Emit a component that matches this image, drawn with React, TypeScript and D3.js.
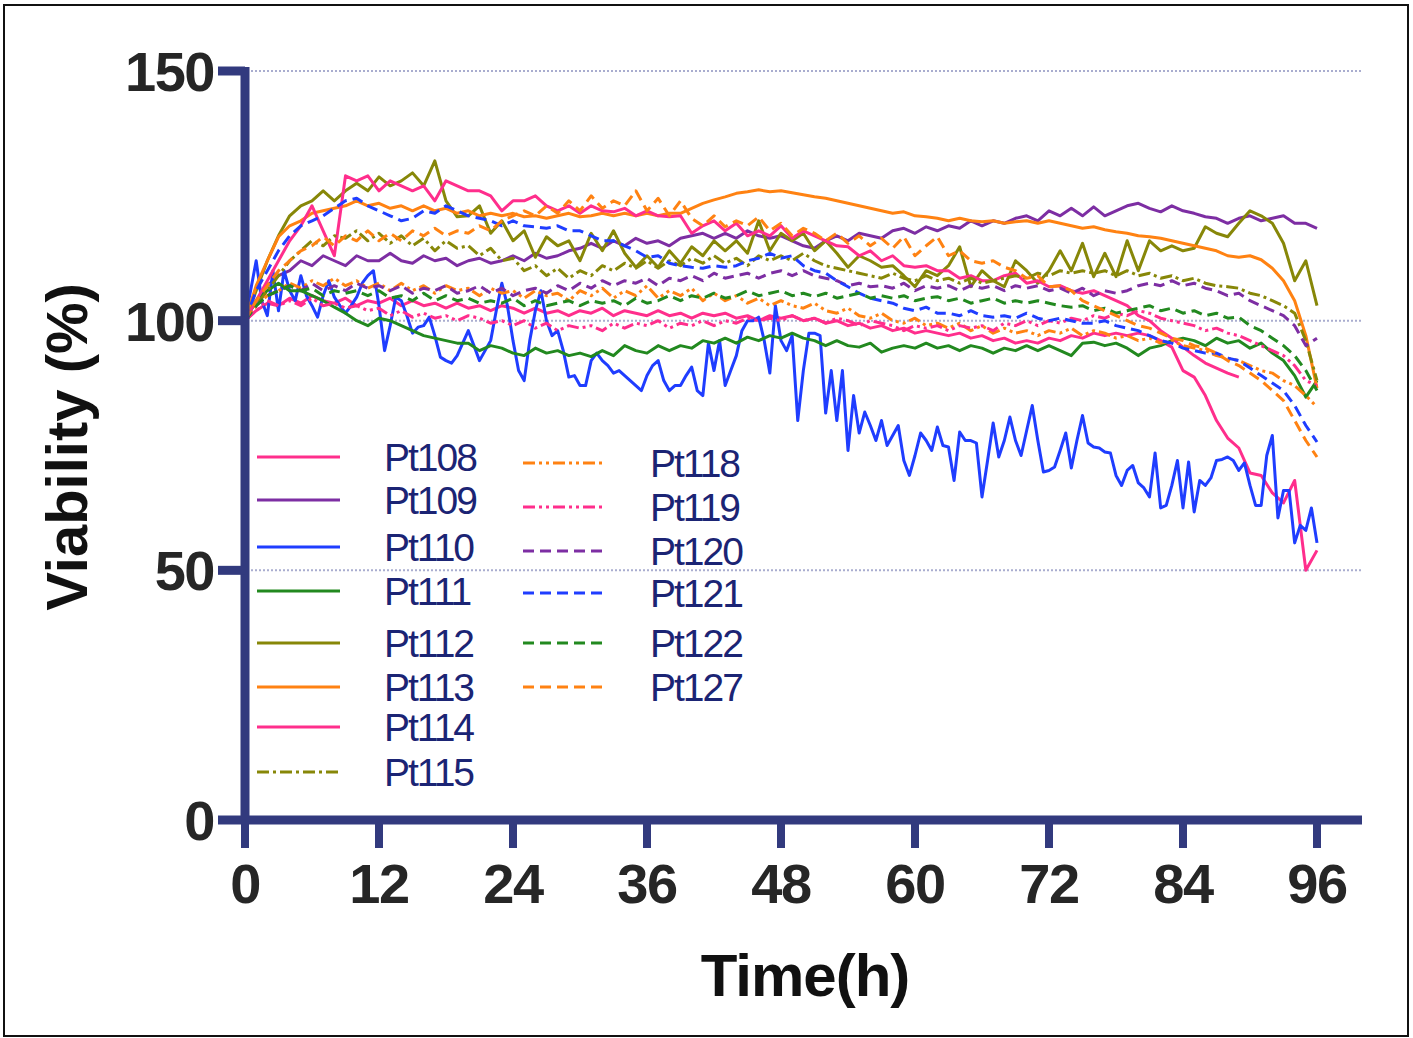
import React from 'react';
import * as d3 from 'd3';

// ---------- data ----------
const HOURS = d3.range(0, 97, 1);
const HALF_HOURS = d3.range(0, 96.5, 0.5);
const X_TICKS = [0, 12, 24, 36, 48, 60, 72, 84, 96];
const Y_TICKS = [0, 50, 100, 150];
const GRID_VALUES = [50, 100, 150];

const pt108 = [
  100, 102, 103.5, 103, 104.5, 103.5, 105, 104, 103.5, 104.5,
  103, 104, 103.5, 104.5, 103, 104, 103, 103.5, 102.5, 103.5,
  102.5, 103, 102, 103, 102.5, 101.5, 102.5, 101.5, 102, 101,
  102, 101.5, 102.5, 101, 102, 101.5, 101, 102, 101, 101.5,
  100.5, 101.5, 101, 101.5, 100.5, 101, 100, 101, 100.5, 101,
  100, 100.5, 99.5, 100, 99, 99.5, 98.5, 99, 98, 98.5,
  97.5, 98, 97.5, 97, 97.5, 96.5, 97, 96, 96.5, 95.5,
  96, 95.5, 96.5, 96, 97, 96.5, 97.5, 97, 97.5, 97,
  97.5, 97, 96, 94.7, 90, 88.7, 85, 80, 76.5, 74.5,
  69.5, 69, 65.5, 63.5, 68, 50, 54,
];
const pt109 = [
  100, 104, 107, 109, 110, 112, 111, 113, 112, 111,
  113, 112, 112, 113.5, 112, 111.5, 113, 112, 112.5, 111,
  112, 112.5, 111.5, 112, 113, 112, 113.5, 112.5, 113, 114,
  114.5, 115.5, 114.5, 116, 115, 116.5, 115.5, 116, 115, 116.5,
  117, 117.5, 116.5, 117.5, 116.5, 118, 117, 116.5, 117, 116,
  115, 114.5, 116, 117, 116, 117.5, 117, 116.5, 118, 118.5,
  117.5, 118.8, 118, 119, 118.5, 120, 119, 120, 119.5, 120.5,
  121, 120, 122, 121, 122.5, 121, 122.8, 121, 122, 123,
  123.5, 122.5, 121.8, 123, 122, 121.5, 120.8, 120.5, 119.5, 120.5,
  121, 120, 120.5, 121, 119.5, 119.5, 118.5,
];
const pt110 = [
  100, 106, 112, 104, 101, 110, 102, 110, 106, 104,
  109, 105, 103, 100.7, 105, 108, 104.7, 103, 101.5, 103,
  104.7, 107.5, 109, 110, 103, 94, 99, 104.7, 104, 101,
  97.5, 98.7, 99, 100.7, 97, 92.7, 92, 91.5, 93, 95.5,
  98, 95, 92, 94, 96, 102, 107.5, 103, 96, 90,
  88, 96, 102, 106, 100, 97, 98, 94, 88.7, 89,
  87, 87, 92, 93.5, 92, 91, 89.5, 90, 89, 88,
  87, 86, 89, 91, 92, 88, 86, 87, 87, 89,
  90.7, 86, 85, 95.5, 90, 96, 87, 90, 93, 98,
  100, 100, 100.7, 96, 89.5, 103, 96, 94, 97, 80,
  90, 97.5, 97.5, 97, 81.5, 90, 80, 90, 74, 85,
  77.5, 81.7, 79, 76, 80, 75, 77, 79, 72, 69,
  73, 77.5, 76, 74, 78.7, 75, 74.7, 68, 77.7, 76,
  76, 75.5, 64.7, 72, 79.5, 72.7, 76, 80.7, 76, 73,
  78, 83, 76, 69.7, 70, 70.7, 74, 77.5, 70.5, 76,
  81, 75.5, 74.7, 74.5, 73.7, 73.5, 69, 67, 70, 71,
  67.5, 66.5, 64.7, 73.5, 62.5, 63, 67, 72, 62.5, 71.7,
  61.7, 68, 67, 68.5, 72, 72.2, 72.7, 72, 70, 71.5,
  67, 63, 63, 73, 77, 60.5, 66, 66, 55.5, 59,
  58, 62.5, 55.5,
];
const pt111 = [
  100, 104, 106, 107.5, 106, 106, 105, 104, 102.7, 101.5,
  100, 99, 100.5, 100, 99, 98, 97, 96.5, 96, 95.5,
  95.5, 94, 95, 94.5, 93.5, 93, 94.5, 93.5, 94, 93,
  93.5, 92.8, 94, 93, 95, 94, 93.5, 95, 94, 95,
  94.5, 96, 95.5, 96.5, 95.5, 96.7, 96, 97, 96.5, 97.5,
  96.5, 96, 95, 96, 95, 94.7, 95.5, 93.7, 94.5, 95,
  94.5, 95.5, 94.5, 95, 94, 95, 94.5, 93.5, 94.5, 94,
  95, 94, 95, 94, 93, 95.5, 95.7, 95, 95.5, 94.5,
  93, 94.5, 95, 96, 96.5, 96, 95, 96.5, 95.5, 96,
  94.5, 95.5, 93.5, 92, 89, 84.7, 88,
];
const pt112 = [
  100, 106, 112, 117, 121, 123, 124, 126, 124, 126,
  127.5, 126, 128.8, 127, 128, 129.6, 127, 132, 124, 120.8,
  121, 123, 117.5, 120, 116, 118, 112.7, 116.8, 115, 116,
  112, 117.5, 114, 118, 113.5, 110.7, 113, 110.7, 114, 111.5,
  114.8, 113, 116, 114, 116, 113.5, 120, 114, 117.5, 116,
  117.5, 114, 116, 113.5, 110.7, 113, 112, 110.7, 111, 109,
  106.8, 110, 109, 111, 114.8, 106.8, 110, 108, 106.8, 112,
  110, 107.5, 110, 114, 110, 115.5, 108.8, 113.5, 108.8, 116,
  110, 116, 114, 115, 114, 114.5, 118.8, 117.5, 116.8, 119.5,
  122, 121, 119.5, 115.5, 108, 112, 103,
];
const pt113 = [
  100, 107, 112, 116.8, 119, 120, 121.5, 122, 122.5, 123,
  124, 123, 123.5, 122.5, 123, 122, 123, 122, 122.5, 121.5,
  122, 121, 121.5, 121, 121.5, 120.8, 121, 120.5, 121, 121.5,
  120.8, 121, 121.5, 121, 121.5, 121, 121.5, 121, 121.5, 121.5,
  122.5, 123.5, 124.2, 124.8, 125.5, 125.8, 126.2, 125.8, 126, 125.6,
  125.2, 124.8, 124.5, 124, 123.5, 123, 122.5, 122, 121.5, 121.8,
  121, 120.8, 120.5, 120, 120.5, 120, 119.8, 120, 119.5, 119.8,
  120, 119.5, 120, 119.5, 119, 118.5, 118.8, 118.2, 117.8, 117.5,
  117, 116.8, 116.5, 116, 115.5, 115, 114.5, 114, 113, 112.7,
  113, 112.2, 110.5, 108, 104, 97, 86.5,
];
const pt114 = [
  100, 104, 108, 112, 116, 119, 123, 118, 113, 129,
  128, 129, 126, 128, 127, 126, 127, 124, 128, 127,
  126, 126, 125, 122, 124, 124, 125, 123, 122, 123,
  121.5, 123, 122, 121.8, 122.5, 121, 122, 121, 120.8, 121,
  117.5, 119, 120, 118, 119.5, 117, 118, 117, 119, 116.5,
  118, 117, 116, 115, 114.8, 113, 114, 112, 113, 111,
  110.7, 111, 110, 110, 108.5, 109, 108, 108, 109, 109.5,
  107.5, 108, 106.8, 107, 106, 105.5, 106, 105, 104, 103,
  101, 100, 98, 96.5, 94.7, 93, 91.5, 90.5, 89.5, 88.7,
  null, null, null, null, null, null, null,
];
const pt115 = [
  100, 103, 106, 109, 112, 114, 116, 115, 117, 116.5,
  118, 116, 117.5, 115.5, 117, 115, 116.5, 114, 116, 114.5,
  115, 113, 114.5, 112, 112.5, 110, 111, 109, 110.5, 108.5,
  110, 109, 111, 110, 111.5, 110.5, 112, 110.5, 112, 111,
  112.5, 111.5, 113, 111.5, 112.5, 111, 113, 112, 113, 112,
  113.5, 112, 111, 110.5, 110, 109.5, 109, 108.5, 109.5, 108.5,
  108, 109, 108, 108.5, 107.5, 108.5, 107.5, 108, 108.5, 109,
  108.5, 109.5, 109, 110, 109.5, 110, 109.5, 110, 109, 110,
  109, 109.5, 108.5, 109, 108, 108.5, 107.5, 107, 106.8, 106.5,
  105.5, 105, 104, 103, 101.5, 96, 88,
];
const pt118 = [
  100, 103, 105, 106, 107.5, 106.5, 108, 107, 108.5, 107,
  108, 106.5, 107.5, 106, 107.5, 106, 107, 105.5, 107, 106,
  106.5, 105, 106.5, 105.5, 106, 104.5, 106, 105, 105.5, 104,
  106, 105, 106.5, 104.5, 106, 105, 107, 104.5, 106, 105,
  106.5, 104, 105.5, 104, 105, 103.5, 104.5, 103, 104, 103,
  102.5, 103.5, 102, 101.5, 102.5, 101, 100.5, 101.5, 100, 99.5,
  100.5, 99, 99.5, 98.5, 99.5, 98, 99, 97.5, 98.5, 97.5,
  98, 97, 98, 97.5, 98.5, 97, 98, 97.5, 96.5, 97,
  96, 96.5, 95.5, 96, 95, 94.5, 94, 93, 92.5, 92,
  91, 90, 89.5, 88, 87, 85, 82.7,
];
const pt119 = [
  100, 102, 104, 103, 104, 103, 104.5, 103, 103.5, 102.5,
  103, 102, 102.5, 101, 102, 100.7, 101.5, 100.5, 101, 100,
  101, 100.5, 99.5, 100, 99, 100, 98.5, 99.5, 98, 99,
  98.5, 99, 98, 99.5, 98.5, 99.5, 99, 100, 98.5, 99.5,
  99, 100, 99, 100, 99.5, 100.5, 100, 100.5, 100, 101,
  100, 100.5, 99.5, 100.5, 100, 99, 100, 99.5, 99, 98,
  99, 98.5, 99, 98, 99, 98.5, 99, 98, 99.5, 99,
  100, 99, 100, 99.5, 100.5, 100, 101, 100.5, 101.5, 101,
  102, 101.5, 100.5, 100, 99.5, 99, 98, 98.5, 97.5, 97,
  96, 95, 94, 93, 91, 88, 87,
];
const pt120 = [
  100, 103, 105, 106, 107, 106, 107.5, 106, 107, 106,
  107.5, 106.5, 107, 106, 107, 105.5, 106.5, 106, 107, 105.5,
  106, 107, 105.5, 106.5, 105, 106, 106.5, 105.5, 107, 106,
  107.5, 106.5, 108, 107, 108, 107.5, 108.5, 107, 108.5, 108,
  109, 108, 109.5, 108.5, 109, 109.5, 108.5, 109.5, 110, 109,
  110, 109, 108.5, 108, 107, 107.5, 106.8, 107, 106.5, 107.5,
  106, 107, 106.5, 107, 106, 107, 106.5, 107, 106, 107,
  106.5, 107, 106, 106.5, 105.5, 106.5, 105, 106, 105.5, 106,
  107, 107.5, 107, 108, 107, 107.5, 106.5, 106, 105, 105.5,
  104, 103, 102, 101, 99, 95, 96.5,
];
const pt121 = [
  100, 106, 110, 114, 117, 119, 120, 121, 122.5, 124,
  124.5, 123, 122, 121, 120, 120.5, 122, 121.5, 123, 122,
  121, 120.5, 120, 119, 120, 119, 118.8, 118.5, 119, 118,
  118, 117, 116, 116, 115, 114, 112.7, 113, 111.5, 111,
  110.7, 110.5, 111, 110.7, 111, 112, 112.5, 113.5, 112.5, 113,
  111, 110, 109.5, 108, 106.8, 105.5, 104.5, 104, 103.5, 102.5,
  102, 102.7, 101.5, 101.5, 101, 102, 101, 100.7, 101, 100.5,
  101.5, 100.5, 100, 100.5, 100, 99.5, 99.5, 100, 99, 98.5,
  98, 97, 96, 95.5, 94.5, 94, 93.5, 93.5, 92.5, 92,
  90.5, 89, 87.5, 86, 83, 79, 75.7,
];
const pt122 = [
  100, 103, 105, 106, 107, 106, 106.5, 105, 106, 105.5,
  106, 105, 106, 104.5, 105, 104, 105.5, 104, 105, 104,
  104.5, 103.5, 104, 103.5, 104.5, 103, 104, 103, 103.5, 104,
  103, 104, 103.5, 104, 103, 104.5, 103.5, 104, 105, 104,
  105, 104.5, 105.5, 104.5, 105, 106, 105, 105.5, 106, 105,
  105.5, 104.8, 105.5, 104.5, 105, 105.5, 104.5, 105, 104.5, 105,
  104, 104.5, 104.8, 104, 104.5, 103.5, 104, 104.5, 103.5, 104,
  103.5, 104, 103.5, 103, 102.7, 103, 102, 102.5, 101.5, 102,
  102.5, 103, 102, 102.5, 101.5, 102, 101, 101.5, 100.5, 100.7,
  99, 98, 96.5, 95, 93, 90, 86,
];
const pt127 = [
  100, 104, 107, 110, 112, 114, 115, 116.8, 115, 117,
  116, 118, 116, 117.5, 116, 118, 117, 118.5, 117, 118,
  117.5, 119, 118, 120, 121, 122, 121, 123, 121.5, 124,
  122, 125, 122.5, 124, 123, 126, 122, 124.5, 121, 124,
  120.5, 119, 121, 118.8, 120, 119, 120.8, 118, 119.5, 117,
  118.5, 117.5, 116, 117.5, 115.5, 117, 115, 116.5, 114.5, 116.8,
  113, 115, 116.8, 113, 114, 112, 111.5, 112, 110.7, 110,
  108.5, 109, 106.8, 107, 106, 104, 103, 102, 101, 100,
  99, 98.5, 97.5, 96.5, 96, 95, 94.5, 93.5, 92, 91,
  89.5, 88, 86, 84, 80, 76, 72.7,
];

// ---------- styles ----------
const COLORS = {
  pink: '#ff2e8c',
  purple: '#7d2ea3',
  blue: '#1f3dff',
  green: '#22891f',
  olive: '#878708',
  orange: '#ff8212',
};
const DASH = {
  solid: undefined as string | undefined,
  dash: '11,6',
  dashDot: '12,4,3,4',
  dashDotDot: '12,4,3,4,3,4',
};

const SERIES = [
  { name: 'Pt108', hours: HOURS, values: pt108, color: COLORS.pink, dash: DASH.solid },
  { name: 'Pt109', hours: HOURS, values: pt109, color: COLORS.purple, dash: DASH.solid },
  { name: 'Pt110', hours: HALF_HOURS, values: pt110, color: COLORS.blue, dash: DASH.solid },
  { name: 'Pt111', hours: HOURS, values: pt111, color: COLORS.green, dash: DASH.solid },
  { name: 'Pt112', hours: HOURS, values: pt112, color: COLORS.olive, dash: DASH.solid },
  { name: 'Pt113', hours: HOURS, values: pt113, color: COLORS.orange, dash: DASH.solid },
  { name: 'Pt114', hours: HOURS, values: pt114, color: COLORS.pink, dash: DASH.solid },
  { name: 'Pt115', hours: HOURS, values: pt115, color: COLORS.olive, dash: DASH.dashDot },
  { name: 'Pt118', hours: HOURS, values: pt118, color: COLORS.orange, dash: DASH.dashDotDot },
  { name: 'Pt119', hours: HOURS, values: pt119, color: COLORS.pink, dash: DASH.dashDotDot },
  { name: 'Pt120', hours: HOURS, values: pt120, color: COLORS.purple, dash: DASH.dash },
  { name: 'Pt121', hours: HOURS, values: pt121, color: COLORS.blue, dash: DASH.dash },
  { name: 'Pt122', hours: HOURS, values: pt122, color: COLORS.green, dash: DASH.dash },
  { name: 'Pt127', hours: HOURS, values: pt127, color: COLORS.orange, dash: DASH.dash },
];

// legend layout (row centres in px)
const LEGEND_COL1_Y = [457, 500, 547, 591, 643, 687, 727, 772];
const LEGEND_COL2_Y = [463, 507, 551, 593, 643, 687];

const AXIS_COLOR = '#323a7e';
const GRID_COLOR = '#a9adcf';
const LABEL_COLOR = '#262626';
const LEGEND_TEXT = '#1b2474';
const FONT = "'Liberation Sans', Arial, Helvetica, sans-serif";

export default function App() {
  const W = 1413;
  const H = 1038;
  const x = d3.scaleLinear().domain([0, 96]).range([245, 1317]);
  const y = d3.scaleLinear().domain([0, 150]).range([820, 71]);

  const makePath = (hours: number[], values: (number | null)[]) =>
    d3
      .line<number | null>()
      .defined((v) => v != null)
      .x((_, i) => x(hours[i]))
      .y((v) => y(v as number))(values) || '';

  const col1 = SERIES.slice(0, 8);
  const col2 = SERIES.slice(8);

  return (
    <svg
      width={W}
      height={H}
      viewBox={`0 0 ${W} ${H}`}
      style={{ position: 'absolute', left: 0, top: 0, background: '#ffffff' }}
      fontFamily={FONT}
    >
      <rect x={0} y={0} width={W} height={H} fill="#ffffff" />
      {/* frame */}
      <rect x={4} y={5} width={1404} height={1031} fill="none" stroke="#111" strokeWidth={2} />

      {/* gridlines */}
      {GRID_VALUES.map((g) => (
        <line
          key={`g${g}`}
          x1={251}
          x2={1362}
          y1={y(g)}
          y2={y(g)}
          stroke={GRID_COLOR}
          strokeWidth={2}
          strokeDasharray="2,2"
        />
      ))}

      {/* series */}
      {SERIES.map((s) => (
        <path
          key={s.name}
          d={makePath(s.hours, s.values)}
          fill="none"
          stroke={s.color}
          strokeWidth={3}
          strokeLinejoin="round"
          strokeDasharray={s.dash}
        />
      ))}

      {/* axes */}
      <line x1={x(0)} x2={x(0)} y1={y(150) - 4} y2={y(0) + 4} stroke={AXIS_COLOR} strokeWidth={9} />
      <line x1={x(0) - 4} x2={1362} y1={y(0)} y2={y(0)} stroke={AXIS_COLOR} strokeWidth={9} />
      {Y_TICKS.map((t) => (
        <g key={`yt${t}`}>
          <line x1={218} x2={x(0)} y1={y(t)} y2={y(t)} stroke={AXIS_COLOR} strokeWidth={9} />
          <text
            x={214}
            y={y(t)}
            dy="0.36em"
            textAnchor="end"
            fontSize={56}
            fontWeight="bold"
            letterSpacing={-1.5}
            fill={LABEL_COLOR}
          >
            {t}
          </text>
        </g>
      ))}
      {X_TICKS.map((t) => (
        <g key={`xt${t}`}>
          <line x1={x(t)} x2={x(t)} y1={y(0)} y2={848} stroke={AXIS_COLOR} strokeWidth={8} />
          <text
            x={x(t)}
            y={903}
            textAnchor="middle"
            fontSize={56}
            fontWeight="bold"
            letterSpacing={-1.5}
            fill={LABEL_COLOR}
          >
            {t}
          </text>
        </g>
      ))}

      {/* axis titles */}
      <text x={805} y={996} textAnchor="middle" fontSize={60} fontWeight="bold" letterSpacing={-1} fill="#111">
        Time(h)
      </text>
      <text
        transform="translate(87,447) rotate(-90)"
        textAnchor="middle"
        fontSize={58}
        fontWeight="bold"
        fill="#111"
      >
        Viability (%)
      </text>

      {/* legend */}
      {col1.map((s, i) => (
        <g key={`l1${s.name}`}>
          <line
            x1={257}
            x2={340}
            y1={LEGEND_COL1_Y[i]}
            y2={LEGEND_COL1_Y[i]}
            stroke={s.color}
            strokeWidth={3}
            strokeDasharray={s.dash}
          />
          <text
            x={384}
            y={LEGEND_COL1_Y[i]}
            dy="0.36em"
            fontSize={39}
            letterSpacing={-2}
            fill={LEGEND_TEXT}
          >
            {s.name}
          </text>
        </g>
      ))}
      {col2.map((s, i) => (
        <g key={`l2${s.name}`}>
          <line
            x1={523}
            x2={606}
            y1={LEGEND_COL2_Y[i]}
            y2={LEGEND_COL2_Y[i]}
            stroke={s.color}
            strokeWidth={3}
            strokeDasharray={s.dash}
          />
          <text
            x={650}
            y={LEGEND_COL2_Y[i]}
            dy="0.36em"
            fontSize={39}
            letterSpacing={-2}
            fill={LEGEND_TEXT}
          >
            {s.name}
          </text>
        </g>
      ))}
    </svg>
  );
}
